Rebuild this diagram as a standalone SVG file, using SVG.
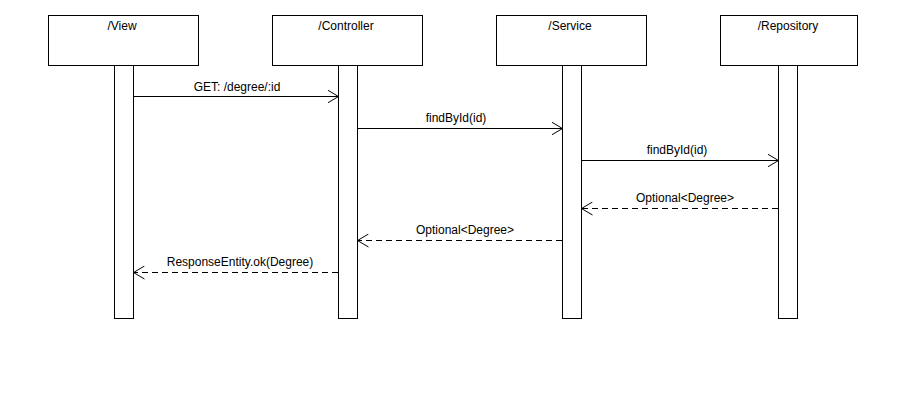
<svg xmlns="http://www.w3.org/2000/svg" width="904" height="400" viewBox="0 0 904 400">
<style>
.box{fill:#fff;stroke:#000;stroke-width:1}
.act{fill:#fff;stroke:#000;stroke-width:1}
.t{font-family:"Liberation Sans",Arial,sans-serif;font-size:12px;fill:#000;text-anchor:middle}
.msg{stroke:#000;stroke-width:1;fill:none}
.dash{stroke-dasharray:6,4}
</style>
<defs>
<marker id="arr" markerWidth="12" markerHeight="14" refX="11" refY="7" orient="auto" markerUnits="userSpaceOnUse">
<path d="M0,0.5 L11,7 L0,13.5" fill="none" stroke="#000" stroke-width="1"/>
</marker>
</defs>
<rect width="904" height="400" fill="#fff"/>
<g id="view">
<rect class="box" x="48.5" y="15.5" width="150" height="50"/>
<text class="t" x="122" y="30">/View</text>
<rect class="act" x="114.5" y="65.5" width="19" height="253"/>
</g>
<g id="controller">
<rect class="box" x="272.5" y="15.5" width="150" height="50"/>
<text class="t" x="346" y="30">/Controller</text>
<rect class="act" x="338.5" y="65.5" width="19" height="253"/>
</g>
<g id="service">
<rect class="box" x="496.5" y="15.5" width="150" height="50"/>
<text class="t" x="570" y="30">/Service</text>
<rect class="act" x="562.5" y="65.5" width="19" height="253"/>
</g>
<g id="repository">
<rect class="box" x="720.5" y="15.5" width="137" height="50"/>
<text class="t" x="788" y="30">/Repository</text>
<rect class="act" x="778.5" y="65.5" width="19" height="253"/>
</g>
<g id="connectors">
<line class="msg" x1="134" y1="96.5" x2="338.5" y2="96.5" marker-end="url(#arr)"/>
<text class="t" x="237" y="91">GET: /degree/:id</text>
<line class="msg" x1="358" y1="128.5" x2="562.5" y2="128.5" marker-end="url(#arr)"/>
<text class="t" x="456" y="122">findById(id)</text>
<line class="msg" x1="582" y1="160.5" x2="778.5" y2="160.5" marker-end="url(#arr)"/>
<text class="t" x="677" y="154">findById(id)</text>
<line class="msg dash" x1="778" y1="208.5" x2="581.5" y2="208.5" marker-end="url(#arr)"/>
<text class="t" x="685" y="202">Optional&lt;Degree&gt;</text>
<line class="msg dash" x1="562" y1="240.5" x2="357.5" y2="240.5" marker-end="url(#arr)"/>
<text class="t" x="465" y="234">Optional&lt;Degree&gt;</text>
<line class="msg dash" x1="338" y1="272.5" x2="133.5" y2="272.5" marker-end="url(#arr)"/>
<text class="t" x="240" y="266">ResponseEntity.ok(Degree)</text>
</g>
</svg>
